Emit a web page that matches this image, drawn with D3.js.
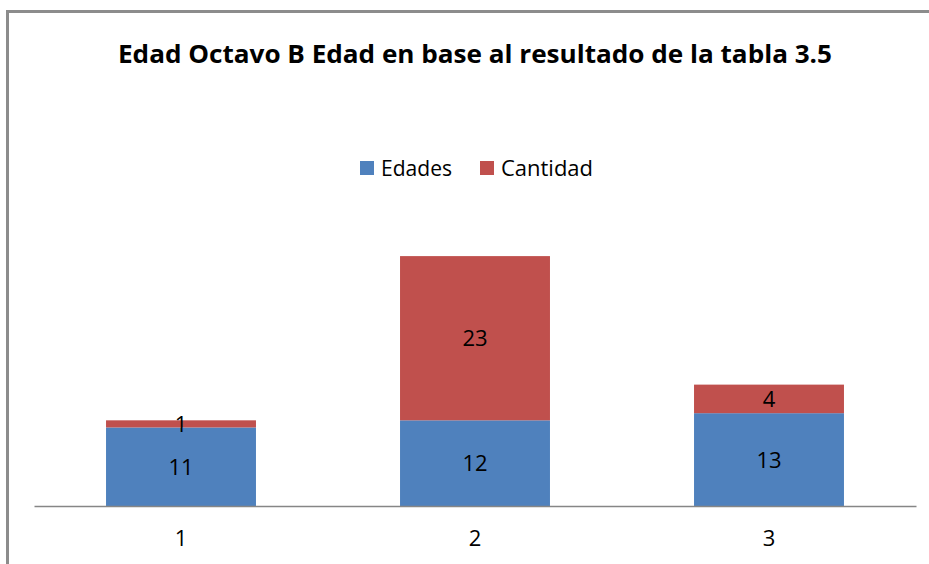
<!DOCTYPE html>
<html>
<head>
<meta charset="utf-8">
<script src="https://cdn.jsdelivr.net/npm/d3@7"></script>
<style>
  body { margin: 0; background: #fff; }
  text { font-family: "Open Sans", "Noto Sans", sans-serif; fill: #000; }
</style>
</head>
<body>
<svg id="chart" width="929" height="564"></svg>
<script>
// chart data
let categories = ["1", "2", "3"];
let edades = [11, 12, 13];
let cantidad = [1, 23, 4];
let seriesNames = ["Edades", "Cantidad"];
let seriesColors = ["#4F81BD", "#C0504D"];

let svg = d3.select("#chart");

// outer chart frame (runs off the right and bottom edge)
svg.append("rect")
    .attr("x", 7.5).attr("y", 11.5)
    .attr("width", 940).attr("height", 580)
    .attr("fill", "none")
    .attr("stroke", "#8c8c8c")
    .attr("stroke-width", 3);

let plotLeft = 34, plotRight = 916, baseY = 506;

let x = d3.scaleBand()
    .domain(categories)
    .range([plotLeft, plotRight])
    .paddingInner(0.49)
    .paddingOuter(0.245);

let y = d3.scaleLinear()
    .domain([0, 40])
    .range([baseY, baseY - 40 * 7.14]);

let rows = categories.map((c, i) => ({ cat: c, Edades: edades[i], Cantidad: cantidad[i] }));
let stacked = d3.stack().keys(seriesNames)(rows);

let bars = svg.append("g").attr("class", "bars");
stacked.forEach((layer, k) => {
    let g = bars.append("g").attr("fill", seriesColors[k]);
    g.selectAll("rect")
        .data(layer)
        .join("rect")
        .attr("x", d => x(d.data.cat))
        .attr("y", d => y(d[1]))
        .attr("width", x.bandwidth())
        .attr("height", d => y(d[0]) - y(d[1]));
});
// data labels in the middle of each segment (drawn over all bars)
stacked.forEach(layer => {
    bars.append("g").selectAll("text")
        .data(layer)
        .join("text")
        .attr("x", d => x(d.data.cat) + x.bandwidth() / 2)
        .attr("y", d => (y(d[0]) + y(d[1])) / 2)
        .attr("dy", "0.36em")
        .attr("text-anchor", "middle")
        .attr("font-size", 22)
        .text(d => d[1] - d[0]);
});

// category axis
let xAxis = d3.axisBottom(x).tickSize(0).tickPadding(24);
let axisG = svg.append("g")
    .attr("transform", `translate(0,${baseY})`)
    .call(xAxis);
axisG.select(".domain").attr("stroke", "#868686").attr("stroke-width", 1.5);
axisG.selectAll("text")
    .attr("font-size", 22)
    .attr("font-family", "\"Open Sans\", sans-serif")
    .attr("fill", "#000");

// title
svg.append("text")
    .attr("x", 475).attr("y", 63)
    .attr("text-anchor", "middle")
    .attr("font-size", 25)
    .attr("font-weight", "bold")
    .attr("textLength", 714)
    .attr("lengthAdjust", "spacingAndGlyphs")
    .text("Edad Octavo B Edad en base al resultado de la tabla 3.5");

// legend
let legend = svg.append("g").attr("class", "legend");
let legendX = [360, 480];
let legendW = [71, 92];
seriesNames.forEach((name, k) => {
    legend.append("rect")
        .attr("x", legendX[k]).attr("y", 161)
        .attr("width", 14).attr("height", 14)
        .attr("fill", seriesColors[k]);
    legend.append("text")
        .attr("x", legendX[k] + 21).attr("y", 176)
        .attr("font-size", 22)
        .attr("textLength", legendW[k])
        .attr("lengthAdjust", "spacingAndGlyphs")
        .text(name);
});
</script>
</body>
</html>
